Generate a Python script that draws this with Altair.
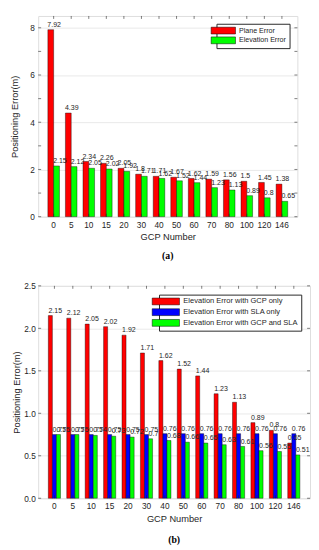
import altair as alt
import pandas as pd

gcp = ["0", "5", "10", "15", "20", "30", "40", "50", "60", "70", "80", "100", "120", "146"]
plane_err = [7.92, 4.39, 2.34, 2.26, 2.05, 1.8, 1.71, 1.67, 1.62, 1.59, 1.56, 1.5, 1.45, 1.38]
elev_err = [2.15, 2.12, 2.05, 2.02, 1.92, 1.71, 1.62, 1.52, 1.44, 1.23, 1.13, 0.89, 0.8, 0.65]
sla_only = [0.75, 0.75, 0.75, 0.75, 0.75, 0.75, 0.76, 0.76, 0.76, 0.76, 0.76, 0.76, 0.76, 0.76]
gcp_sla = [0.75, 0.75, 0.74, 0.73, 0.72, 0.7, 0.68, 0.66, 0.65, 0.63, 0.61, 0.56, 0.55, 0.51]

series_a = ["Plane Error", "Elevation Error"]
series_b = ["Elevation Error with GCP only", "Elevation Error with SLA only",
            "Elevation Error with GCP and SLA"]
colors_a = ["#FF0000", "#00FF00"]
colors_b = ["#FF0000", "#0000FF", "#00FF00"]
yticks_a = [0, 1, 2, 3, 4, 5, 6, 7, 8]
yticks_b = [0, 0.5, 1, 1.5, 2, 2.5]

FONT = "Liberation Sans"
FRAME = "#262626"


def long_df(series, arrays):
    rows = []
    for s, arr in zip(series, arrays):
        for g, v in zip(gcp, arr):
            rows.append({"gcp": g, "series": s, "value": v, "label": str(v)})
    return pd.DataFrame(rows)


def panel(df, series, colors, ymax, yticks, w, h, caption, cap_off,
          sym_path, leg_font, leg_offset, lab_off, row_pad, title_pad, lab_pad, dx):
    xsc = alt.Scale(paddingInner=0.34, paddingOuter=0.55)
    ysc = alt.Scale(domain=[0, ymax], nice=False, zero=True)
    x = alt.X("gcp:N", sort=gcp, scale=xsc,
              axis=alt.Axis(title="GCP Number", labelAngle=0, ticks=False, domain=False,
                            grid=False, labelFont=FONT, labelFontSize=8.5,
                            labelColor=FRAME, labelPadding=4, titleFont=FONT,
                            titleFontSize=9.5, titleFontWeight="normal",
                            titleColor=FRAME, titlePadding=3))
    y = alt.Y("value:Q", scale=ysc,
              axis=alt.Axis(title="Positioning Error(m)", values=yticks, ticks=False,
                            domain=False, grid=True, gridColor="#e3e3e3", gridWidth=0.8,
                            labelFont=FONT, labelFontSize=8.5, labelColor=FRAME,
                            labelPadding=lab_pad, titleFont=FONT, titleFontSize=9.5,
                            titleFontWeight="normal", titleColor=FRAME,
                            titlePadding=title_pad))
    color = alt.Color("series:N", sort=series,
                      scale=alt.Scale(domain=series, range=colors),
                      legend=alt.Legend(title=None, orient="top-right", offset=leg_offset,
                                        direction="vertical", strokeColor=FRAME,
                                        fillColor="white", padding=3,
                                        symbolType=sym_path, symbolSize=49,
                                        symbolStrokeColor="black", symbolStrokeWidth=0.5,
                                        labelFont=FONT, labelFontSize=leg_font,
                                        labelColor=FRAME, rowPadding=row_pad,
                                        labelOffset=lab_off))
    xo = alt.XOffset("series:N", sort=series)
    bars = alt.Chart(df).mark_bar(stroke="black", strokeWidth=0.4).encode(
        x=x, xOffset=xo, y=y, color=color)
    text = alt.Chart(df).mark_text(align="left", baseline="bottom", dx=dx, dy=-1,
                                   font=FONT, fontSize=7.2, color=FRAME).encode(
        x=alt.X("gcp:N", sort=gcp, scale=xsc), xOffset=xo,
        y=alt.Y("value:Q", scale=ysc), text="label:N")
    gdf = pd.DataFrame({"gcp": gcp})
    tdf = pd.DataFrame({"value": yticks})
    top_t = alt.Chart(gdf).mark_rule(color=FRAME, strokeWidth=0.6).encode(
        x=alt.X("gcp:N", sort=gcp), y=alt.value(0), y2=alt.value(3))
    bot_t = alt.Chart(gdf).mark_rule(color=FRAME, strokeWidth=0.6).encode(
        x=alt.X("gcp:N", sort=gcp), y=alt.value(h - 3), y2=alt.value(h))
    left_t = alt.Chart(tdf).mark_rule(color=FRAME, strokeWidth=0.6).encode(
        y=alt.Y("value:Q", scale=ysc), x=alt.value(0), x2=alt.value(3))
    right_t = alt.Chart(tdf).mark_rule(color=FRAME, strokeWidth=0.6).encode(
        y=alt.Y("value:Q", scale=ysc), x=alt.value(w - 3), x2=alt.value(w))
    return alt.layer(bars, text, top_t, bot_t, left_t, right_t).properties(
        width=w, height=h,
        title=alt.TitleParams(caption, orient="bottom", font="Liberation Serif",
                              fontWeight="bold", fontSize=10, color="black",
                              offset=cap_off, anchor="middle"))


df_a = long_df(series_a, [plane_err, elev_err])
df_b = long_df(series_b, [elev_err, sla_only, gcp_sla])

ch_a = panel(df_a, series_a, colors_a, 8.5, yticks_a, 266, 206, "(a)", 10,
             "M-3.57,-1H3.57V1H-3.57Z", 7.3, 8, 12, 0, 11, 4, -3.5)
ch_b = panel(df_b, series_b, colors_b, 2.5, yticks_b, 279, 218, "(b)", 13,
             "M-4,-1H4V1H-4Z", 7.7, 9, 14, 1, 2, 3, -2)

chart = alt.vconcat(ch_a, ch_b, spacing=20).resolve_scale(
    x="independent", y="independent", color="independent", xOffset="independent"
).resolve_legend(color="independent").properties(
    padding=0
).configure_view(stroke=FRAME, strokeWidth=0.8).configure(background="white")

chart.save("out.html", embed_options={"renderer": "svg", "actions": False})
